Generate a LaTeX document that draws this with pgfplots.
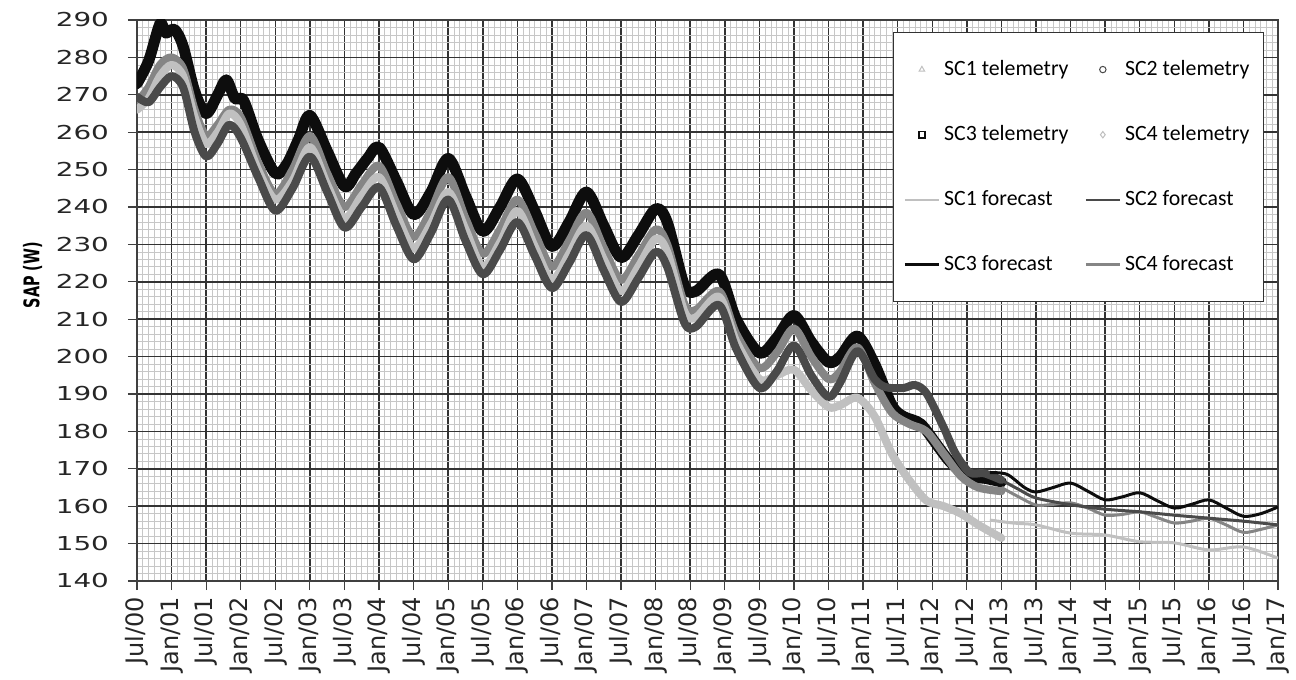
\documentclass[border=0pt]{standalone}
\usepackage{graphicx}
\usepackage{pgfplots}
\pgfplotsset{compat=1.18}
\usepackage{fontspec}
\setmainfont{DejaVu Sans}
\newfontfamily\ytfont{DejaVu Sans}[FakeStretch=1.45]
\newfontfamily\legfont{Carlito}
\definecolor{cA}{HTML}{C0C0C0}
\definecolor{cB}{HTML}{4A4A4A}
\definecolor{cC}{HTML}{0D0D0D}
\definecolor{cD}{HTML}{858585}
\begin{document}
\begin{tikzpicture}
\begin{axis}[
  scale only axis, width=570.5pt, height=280.5pt,
  xmin=0, xmax=198, ymin=140, ymax=290,
  xtick={0,6,12,18,24,30,36,42,48,54,60,66,72,78,84,90,96,102,108,114,120,126,132,138,144,150,156,162,168,174,180,186,192,198},
  xticklabels={Jul/00,Jan/01,Jul/01,Jan/02,Jul/02,Jan/03,Jul/03,Jan/04,Jul/04,Jan/05,Jul/05,Jan/06,Jul/06,Jan/07,Jul/07,Jan/08,Jul/08,Jan/09,Jul/09,Jan/10,Jul/10,Jan/11,Jul/11,Jan/12,Jul/12,Jan/13,Jul/13,Jan/14,Jul/14,Jan/15,Jul/15,Jan/16,Jul/16,Jan/17},
  ytick={140,150,...,290},
  minor x tick num=5, minor y tick num=4,
  grid=both,
  major grid style={black!80, line width=0.75pt},
  minor grid style={black!22, line width=0.35pt},
  axis line style={black!75, line width=0.75pt},
  tick pos=left, tick align=outside,
  major tick length=4.5pt, minor tick length=0pt,
  tick style={black!75, line width=0.6pt},
  /pgf/number format/assume math mode=true,
  yticklabel style={font=\ytfont\fontsize{9.6}{11}\selectfont, text=black!85, xshift=-6pt},
  xticklabel style={rotate=90, anchor=east, font=\fontsize{12}{14}\selectfont, text=black!85},
  ylabel={\scalebox{1}[1.5]{\bfseries\fontsize{7.2}{8}\selectfont SAP (W)}},
  ylabel style={at={(axis description cs:-0.0915,0.545)}, anchor=center, rotate=0},
  legend columns=2,
  legend cell align=left,
  legend style={at={(1,1)}, anchor=north east, xshift=-7pt, yshift=-6pt,
    draw=black!80, line width=0.5pt, fill=white,
    font=\legfont\fontsize{10.9}{12}\selectfont,
    inner xsep=5pt, inner ysep=12pt, row sep=19.5pt,
    /tikz/every even column/.append style={column sep=6pt}},
]
% legend images
\addlegendimage{only marks, mark=triangle, mark size=1.6pt, color=cA}
\addlegendentry{SC1 telemetry}
\addlegendimage{only marks, mark=o, mark size=1.6pt, color=cB}
\addlegendentry{SC2 telemetry}
\addlegendimage{only marks, mark=square, mark size=1.6pt, color=cC, line width=0.9pt}
\addlegendentry{SC3 telemetry}
\addlegendimage{only marks, mark=diamond, mark size=1.6pt, color=cA}
\addlegendentry{SC4 telemetry}
\addlegendimage{color=cA, line width=1.2pt}
\addlegendentry{SC1 forecast}
\addlegendimage{color=cB, line width=1.2pt}
\addlegendentry{SC2 forecast}
\addlegendimage{color=cC, line width=1.2pt}
\addlegendentry{SC3 forecast}
\addlegendimage{color=cD, line width=1.2pt}
\addlegendentry{SC4 forecast}

% SC3 telemetry (black)
\addplot[forget plot, color=cC, line width=5.5pt, smooth, line join=round, line cap=round] coordinates {
(0,273) (2,279) (4,289) (5,286.5) (6.5,287.5) (8,283) (10,271) (12,265) (14,270) (15.5,274) (17,269) (18.5,268.5) (21,258) (24,249) (26,251.5) (28,258) (30,264.5) (33,255) (36,245.5) (38,249) (40,253) (42,256) (45,247) (48,238) (51,244) (54,253) (57,243) (60,233.5) (63,240) (66,247.5) (69,239) (72,229.5) (75,236) (78,244) (81,235) (84,226.5) (87,232.5) (90,239.5) (92,236) (95,219) (97,217.5) (101,222) (104,210) (108,201) (111,205) (114,211) (117,204) (120,198.5) (122,200) (125,205.5) (128,198) (131,187) (133,184) (136,182) (139,176) (141,172) (144,168) (147,167.5) (150,166.5)
};
% SC4 telemetry (medium grey)
\addplot[forget plot, color=cD, line width=4pt, smooth, line join=round, line cap=round] coordinates {
(0,268) (2,272) (4,278) (6,280) (8,277) (10,266) (12,259) (14,262) (16,266) (18,264) (21,252) (24,243.5) (27,250) (30,259) (33,249) (36,240) (39,246) (42,251) (45,241) (48,232) (51,239) (54,248) (57,237) (60,227.5) (63,234) (66,242) (69,233) (72,224) (75,231) (78,238.5) (81,229) (84,220.5) (87,227) (90,234) (92,230) (95,214) (97,212.5) (101,217.5) (104,206) (108,197) (111,201) (114,207.5) (117,200) (120,194) (122,196) (125,202.5) (128,193) (131,185) (134,182) (137,180) (140,174) (143,168) (146,165) (150,164)
};
% SC1 telemetry (light grey)
\addplot[forget plot, color=cA, line width=4pt, smooth, line join=round, line cap=round] coordinates {
(0,266) (2,269) (4,275) (6,278) (8,275) (10,264) (12,257) (14,260) (16,265) (18,262) (21,250) (24,242) (27,247) (30,256) (33,246) (36,237) (39,243) (42,248) (45,238) (48,229) (51,235.5) (54,244) (57,234) (60,224) (63,230.5) (66,239) (69,229.5) (72,220.5) (75,227.5) (78,235) (81,226) (84,217.5) (87,224) (90,231.5) (92,228) (95,212) (97,210.5) (101,216) (104,204) (108,194) (111,195) (114,196.5) (117,191) (120,186.5) (122,187) (125,189) (128,184) (131,174) (134,167) (137,161.5) (140,160) (143,158) (146,155) (150,151.5)
};
% SC2 telemetry (dark grey)
\addplot[forget plot, color=cB, line width=4pt, smooth, line join=round, line cap=round] coordinates {
(0,269.5) (2,268) (4,272) (6,275) (8,272) (10,260) (12,253.5) (14,257) (16,262) (18,258.5) (21,248) (24,239) (27,245) (30,253.5) (33,244) (36,234.5) (39,240) (42,245.3) (45,235) (48,226) (51,233) (54,242) (57,231) (60,222) (63,228.5) (66,236) (69,227) (72,218.3) (75,225) (78,232.5) (81,223) (84,214.6) (87,221) (90,228) (92,224) (95,209) (97,208) (101,213.8) (104,202) (108,191.6) (111,196) (114,203) (117,195) (120,189.2) (122,193) (125,201.5) (128,194) (130,191.8) (133,191.6) (135,192.4) (137,190.2) (140,181) (142,174.2) (144.5,169) (147,168.8) (150,167)
};

% forecasts
\addplot[forget plot, color=cA, line width=1.5pt, smooth] coordinates {
(148,156.3) (152,155.5) (156,155) (162,152.8) (168,152.3) (174,150.5) (180,150.2) (186,148.3) (192,149.1) (198,146.1)
};
\addplot[forget plot, color=cD, line width=1.5pt, smooth] coordinates {
(150,165) (153,162.5) (156,160.3) (159,160.5) (162,160.9) (165,159.5) (168,157.6) (171,157.8) (174,158.5) (177,157) (180,155.5) (183,156) (186,156.8) (189,155) (192,153) (195,153.8) (198,155)
};
\addplot[forget plot, color=cB, line width=1.5pt, smooth] coordinates {
(150,167) (153,164.5) (156,162.2) (162,160.4) (168,159.2) (174,158.5) (180,157.6) (186,156.8) (192,156) (198,155)
};
\addplot[forget plot, color=cC, line width=1.5pt, smooth] coordinates {
(148,169) (151,168.5) (154,165) (156,163.8) (159,165) (162,166.2) (165,164) (168,161.7) (171,162.5) (174,163.6) (177,161.5) (180,159.5) (183,160.5) (186,161.7) (189,159.5) (192,157.3) (195,158) (198,159.8)
};
\end{axis}
\path[use as bounding box] (-68.5pt,-46.5pt) rectangle (579.5pt,290.5pt);
\end{tikzpicture}
\end{document}
